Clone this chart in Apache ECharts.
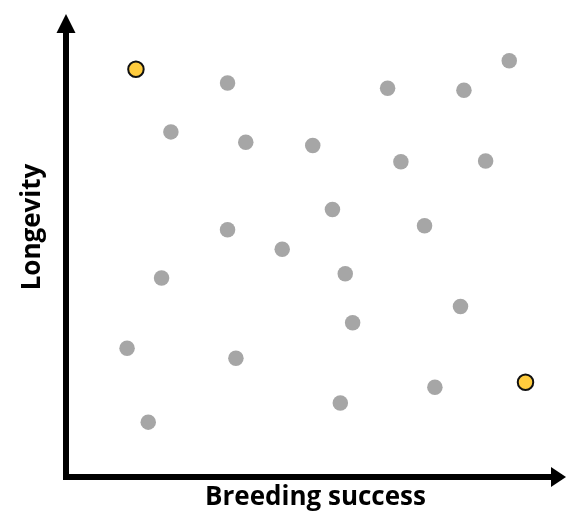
<!DOCTYPE html>
<html>
<head>
<meta charset="utf-8">
<script src="https://cdn.jsdelivr.net/npm/echarts@6/dist/echarts.min.js"></script>
<style>html,body{margin:0;padding:0;background:#fff}#c{width:567px;height:513px}</style>
</head>
<body>
<div id="c"></div>
<script>
// Breeding success (x) vs Longevity (y), arbitrary units 0-100
const grayX = [32.8, 65.3, 80.8, 90.0, 21.3, 36.5, 50.1, 68.0, 85.2, 54.1, 32.8, 72.8, 43.9, 19.4, 56.7, 80.1, 58.2, 12.4, 34.5, 74.9, 55.7, 16.7];
const grayY = [86.9, 85.7, 85.3, 91.8, 76.1, 73.8, 73.1, 69.5, 69.7, 59.0, 54.5, 55.4, 50.2, 43.9, 44.8, 37.6, 34.0, 28.4, 26.2, 19.8, 16.3, 12.1];
const highlightX = [14.2, 93.3];
const highlightY = [89.9, 20.9];
const xTitle = 'Breeding success';
const yTitle = 'Longevity';

const chart = echarts.init(document.getElementById('c'), null, {renderer: 'canvas'});
const axisCommon = {
  type: 'value', min: 0, max: 100,
  splitLine: {show: false}, axisTick: {show: false}, axisLabel: {show: false}
};
chart.setOption({
  animation: false,
  backgroundColor: '#ffffff',
  grid: {left: 66, right: 8.5, top: 23.5, bottom: 36},
  xAxis: Object.assign({}, axisCommon, {
    axisLine: {show: true, onZero: false, symbol: ['none', 'triangle'], symbolSize: [20, 15],
      lineStyle: {color: '#000', width: 6, cap: 'square'}}
  }),
  yAxis: Object.assign({}, axisCommon, {
    axisLine: {show: true, onZero: false, symbol: ['none', 'triangle'], symbolSize: [19, 19],
      lineStyle: {color: '#000', width: 6, cap: 'square'}}
  }),
  graphic: [
    {type: 'text', position: [315.5, 498],
      style: {text: xTitle, font: 'bold 26px "Open Sans"', fill: '#000', textAlign: 'center', textVerticalAlign: 'middle'}},
    {type: 'text', position: [33, 227], rotation: Math.PI / 2,
      style: {text: yTitle, font: 'bold 26px "Open Sans"', fill: '#000', textAlign: 'center', textVerticalAlign: 'middle'}}
  ],
  series: [
    {type: 'scatter', symbolSize: 15.5,
      itemStyle: {color: '#a6a6a6', opacity: 1},
      data: grayX.map((x, i) => [x, grayY[i]])},
    {type: 'scatter', symbolSize: 15.5,
      itemStyle: {color: '#ffcc3e', borderColor: '#111', borderWidth: 2, opacity: 1},
      data: highlightX.map((x, i) => [x, highlightY[i]])}
  ]
});
</script>
</body>
</html>
